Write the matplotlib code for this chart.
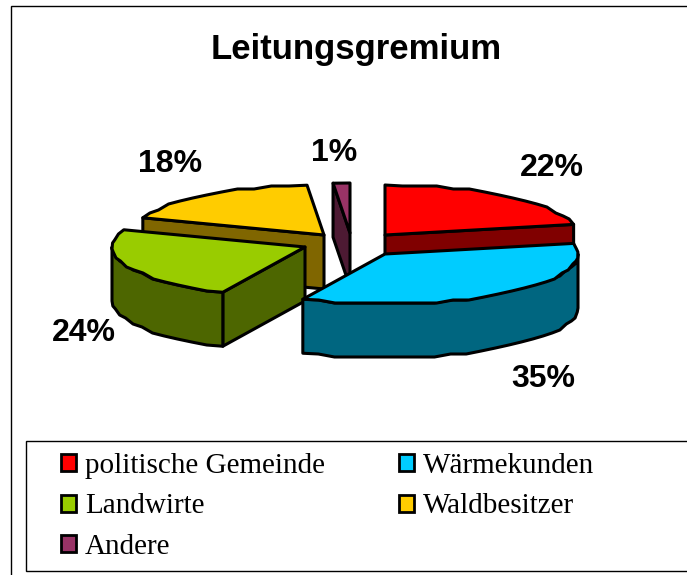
# -*- coding: utf-8 -*-
import numpy as np
from matplotlib import pyplot as plt
from matplotlib.patches import Patch, Polygon, Rectangle

categorias = ['politische Gemeinde', 'Wärmekunden', 'Landwirte', 'Waldbesitzer', 'Andere']
valores = [21.6, 35.4, 23.6, 18.0, 1.4]
colores = ['#FF0000', '#00CCFF', '#99CC00', '#FFCC00', '#993366']
lados = ['#800000', '#006680', '#4D6600', '#806600', '#4D1A33']

# geometria de la torta, en pixeles de la imagen
centros = [(385, 235), (385, 254), (305, 247), (324, 235), (350, 233)]
pos_etiquetas = [(552, 168), (543, 379), (84, 333), (170, 164), (334, 153)]
RX, RY, ALTO = 193, 50, 54

def borde(c, a0, a1):
    """ Puntos del arco, con el escalonado que tiene la imagen original """
    n = max(2, int((a1 - a0) / 5) + 1)
    t = np.radians(np.linspace(a0, a1, n))
    x = c[0] + RX * np.sin(t)
    y = c[1] - RY * np.cos(t)
    y[1:-1] = np.round(y[1:-1] / 3.0) * 3.0
    return np.column_stack([x, y])

def cara(ax, puntos, color, z):
    ax.add_patch(Polygon(puntos, closed=True, facecolor=color, edgecolor='black',
                         linewidth=2.2, joinstyle='round', zorder=z))

fig = plt.figure(figsize=(6.87, 5.75), dpi=100)
ax = fig.add_axes([0, 0, 1, 1])
ax.set_xlim(0, 687)
ax.set_ylim(575, 0)
ax.axis('off')

ax.add_patch(Rectangle((11, 6), 700, 600, facecolor='white', edgecolor='black', linewidth=1))

angulos = np.cumsum([0] + valores) / sum(valores) * 360
orden = [4, 3, 0, 2, 1]
for k, i in enumerate(orden):
    a0, a1 = angulos[i], angulos[i + 1]
    c = np.array(centros[i], dtype=float)
    arco = borde(c, a0, a1)
    abajo = np.array([0, ALTO])
    z = 2 + k
    # solo las caras radiales que miran hacia adelante
    if a0 > 180:
        cara(ax, [c, arco[0], arco[0] + abajo, c + abajo], lados[i], z)
    if a1 < 180:
        cara(ax, [c, arco[-1], arco[-1] + abajo, c + abajo], lados[i], z)
    if a1 > 90 and a0 < 270:
        frente = borde(c, max(a0, 90), min(a1, 270))
        cara(ax, np.vstack([frente, (frente + abajo)[::-1]]), lados[i], z)
    cara(ax, np.vstack([c, arco]), colores[i], z)

for v, p in zip(valores, pos_etiquetas):
    ax.text(p[0], p[1], '%d%%' % round(v), ha='center', va='center', fontsize=23,
            fontweight='bold', family='Liberation Sans', zorder=20)

ax.text(356, 49, 'Leitungsgremium', ha='center', va='center', fontsize=25,
        fontweight='bold', family='Liberation Sans')

ax.add_patch(Rectangle((26, 441), 700, 130, facecolor='white', edgecolor='black',
                       linewidth=1, zorder=10))

orden_ley = [0, 2, 4, 1, 3]
manijas = [Patch(facecolor=colores[i], edgecolor='black', linewidth=2) for i in orden_ley]
etiquetas = [categorias[i] for i in orden_ley]
ley = ax.legend(manijas, etiquetas, ncol=2, frameon=False, loc='upper left',
                bbox_to_anchor=(55, 447), bbox_transform=ax.transData,
                prop={'family': 'Liberation Serif', 'size': 21},
                handlelength=0.52, handleheight=0.52, handletextpad=0.3,
                labelspacing=0.5, columnspacing=2.55, borderpad=0.2, borderaxespad=0)
ley.set_zorder(11)

fig.savefig('out.png', dpi=100)
